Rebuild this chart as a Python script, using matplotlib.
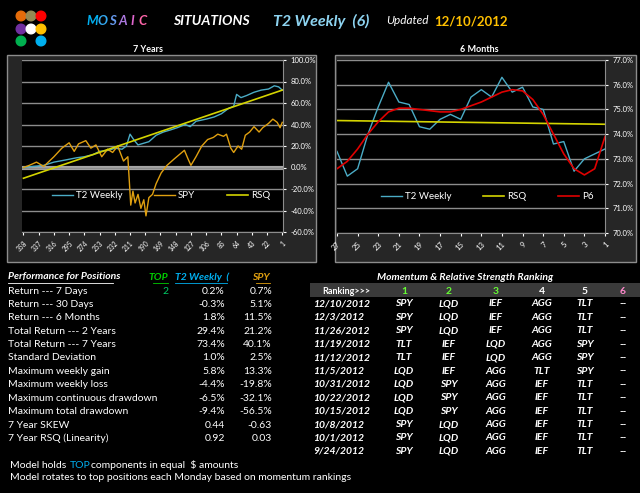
import matplotlib.pyplot as plt
from matplotlib.patches import Rectangle, Circle

W, H = 640, 493
FONT = ['Lato', 'DejaVu Sans']
plt.rcParams['font.family'] = FONT

# ---- 7 year chart data (week index counting down to 1) ----
long_ticks = [358, 337, 316, 295, 274, 253, 232, 211, 190, 169, 148, 127, 106, 85, 64, 43, 22, 1]
t2_wk = [358, 345, 330, 316, 300, 285, 274, 262, 253, 240, 232, 222, 216, 211, 206, 200, 195, 185,
         175, 165, 155, 146, 135, 128, 120, 106, 95, 85, 75, 68, 64, 58, 50, 40, 30, 20, 12, 6, 1]
t2_val = [0, 1, 2, 5, 7, 9, 10, 12, 15, 16, 18, 17, 20, 31, 26, 21, 22, 24,
          30, 33, 35, 37, 40, 38, 43, 45, 47, 50, 55, 57, 68, 65, 67, 70, 72, 73, 76, 75, 72]
spy_wk = [358, 350, 340, 330, 316, 305, 295, 288, 282, 272, 265, 258, 250, 242, 235, 228, 220, 214,
          210, 207, 204, 200, 196, 192, 189, 185, 180, 175, 168, 160, 150, 143, 136, 131, 127, 120,
          112, 104, 96, 90, 82, 78, 72, 68, 62, 57, 52, 46, 40, 33, 28, 20, 14, 8, 4, 1]
spy_val = [0, 2, 5, 1, 10, 18, 23, 15, 22, 25, 18, 21, 10, 17, 14, 20, 6, 10,
           -35, -22, -33, -25, -38, -30, -45, -28, -25, -15, -5, 2, 8, 12, 16, 8, 2, 10,
           20, 26, 28, 31, 29, 31, 18, 14, 20, 17, 30, 33, 38, 33, 37, 41, 45, 42, 37, 42]
rsq_wk = [358, 1]
rsq_val = [-10, 72]

# ---- 6 month chart data ----
short_wk = list(range(27, 0, -1))
short_ticks = list(range(27, 0, -2))
t2_short = [73.3, 72.3, 72.6, 74.0, 75.1, 76.1, 75.3, 75.2, 74.3, 74.2, 74.6, 74.8, 74.6, 75.5,
            75.8, 75.5, 76.3, 75.7, 75.9, 75.1, 75.0, 73.6, 73.7, 72.5, 73.0, 73.2, 73.4]
p6_short = [72.6, 72.9, 73.4, 74.0, 74.5, 74.9, 75.05, 75.05, 75.0, 74.95, 74.9, 74.9, 75.0, 75.15,
            75.3, 75.5, 75.7, 75.8, 75.75, 75.4, 74.8, 74.0, 73.2, 72.6, 72.35, 72.6, 73.9]
rsq_short = [74.55, 74.4]

# ---- performance table ----
perf_labels = ['Return --- 7 Days', 'Return --- 30 Days', 'Return --- 6 Months',
               'Total Return --- 2 Years', 'Total Return --- 7 Years', 'Standard Deviation',
               'Maximum weekly gain', 'Maximum weekly loss', 'Maximum continuous drawdown',
               'Maximum total drawdown', '7 Year SKEW', '7 Year RSQ (Linearity)']
perf_t2 = ['0.2%', '-0.3%', '1.8%', '29.4%', '73.4%', '1.0%', '5.8%', '-4.4%', '-6.5%', '-9.4%', '0.44', '0.92']
perf_spy = ['0.7%', '5.1%', '11.5%', '21.2%', '40.1%', '2.5%', '13.3%', '-19.8%', '-32.1%', '-56.5%', '-0.63', '0.03']

# ---- ranking table ----
rank_dates = ['12/10/2012', '12/3/2012', '11/26/2012', '11/19/2012', '11/12/2012', '11/5/2012',
              '10/31/2012', '10/22/2012', '10/15/2012', '10/8/2012', '10/1/2012', '9/24/2012']
rank_rows = [['SPY', 'LQD', 'IEF', 'AGG', 'TLT'], ['SPY', 'LQD', 'IEF', 'AGG', 'TLT'],
             ['SPY', 'LQD', 'IEF', 'AGG', 'TLT'], ['TLT', 'IEF', 'LQD', 'AGG', 'SPY'],
             ['TLT', 'IEF', 'LQD', 'AGG', 'SPY'], ['LQD', 'IEF', 'AGG', 'TLT', 'SPY'],
             ['LQD', 'SPY', 'AGG', 'IEF', 'TLT'], ['LQD', 'SPY', 'AGG', 'IEF', 'TLT'],
             ['LQD', 'SPY', 'AGG', 'IEF', 'TLT'], ['SPY', 'LQD', 'AGG', 'IEF', 'TLT'],
             ['SPY', 'LQD', 'AGG', 'IEF', 'TLT'], ['SPY', 'LQD', 'AGG', 'IEF', 'TLT']]

fig = plt.figure(figsize=(6.4, 4.93), dpi=100, facecolor='black')
bg = fig.add_axes([0, 0, 1, 1])
bg.set_xlim(0, W)
bg.set_ylim(H, 0)
bg.axis('off')


def txt(x, y, s, **kw):
    kw.setdefault('color', 'white')
    kw.setdefault('fontsize', 7.5)
    kw.setdefault('va', 'center')
    bg.text(x, y, s, **kw)


def px_axes(x0, y0, x1, y1):
    return fig.add_axes([x0 / W, 1 - y1 / H, (x1 - x0) / W, (y1 - y0) / H])


# header
dots = [(21, 16, '#e46c0a'), (31, 16, '#948a54'), (41, 16, '#ff0000'),
        (21, 29, '#7030a0'), (31, 29, 'white'), (41, 29, '#ffc000'),
        (21, 41, '#00b050'), (41, 41, '#00b0f0')]
for x, y, c in dots:
    bg.add_patch(Circle((x, y), 4.8, color=c))
mosaic_cols = ['#00b0f0', '#33a8f0', '#6699ee', '#aa77dd', '#dd66cc', '#ff66aa']
for i, ch in enumerate('MOSAIC'):
    txt(92 + i * 10.2, 21, ch, color=mosaic_cols[i], fontsize=9.5, fontweight='bold', style='italic', ha='center')
txt(173, 21, 'SITUATIONS', fontsize=10, fontweight='bold', style='italic')
txt(273, 21, 'T2 Weekly  (6)', color='#8dd3f0', fontsize=11.5, fontweight='bold', style='italic')
txt(386, 21, 'Updated', fontsize=8.5, style='italic')
txt(434, 21, '12/10/2012', color='#ffc000', fontsize=9.5, fontweight='bold')
txt(148, 50, '7 Years', fontsize=6.5, fontweight='bold', ha='center')
txt(479, 50, '6 Months', fontsize=6.5, fontweight='bold', ha='center')

# chart panels
for x0, x1 in [(7, 316), (335, 636)]:
    bg.add_patch(Rectangle((x0, 55), x1 - x0, 207, facecolor='#262626', edgecolor='#8c8c8c', lw=1))


def style_axes(ax, ticks, ylim, yticks, lsize):
    ax.set_facecolor('black')
    ax.set_ylim(*ylim)
    ax.set_yticks(yticks)
    ax.yaxis.tick_right()
    ax.grid(axis='y', color='#8c8c8c', lw=1)
    ax.set_xticks(ticks)
    ax.set_xticklabels([str(t) for t in ticks], rotation=45, ha='right', rotation_mode='anchor')
    ax.tick_params(colors='white', labelsize=5.5, length=2)
    ax.tick_params(axis='x', labelsize=lsize)
    for s in ax.spines.values():
        s.set_visible(False)
    ax.spines['bottom'].set_visible(True)
    ax.spines['bottom'].set_color('#8c8c8c')
    ax.spines['right'].set_visible(True)
    ax.spines['right'].set_color('#8c8c8c')


ax1 = px_axes(22, 60, 283, 232)
ax1.plot(t2_wk, t2_val, color='#4bacc6', lw=1, label='T2 Weekly')
ax1.plot(spy_wk, spy_val, color='#e0a010', lw=1, label='SPY')
ax1.plot(rsq_wk, rsq_val, color='#d4d400', lw=1.2, label='RSQ')
ax1.axhline(0, color='#a6a6a6', lw=3, zorder=0)
ax1.set_xlim(360, 0)
style_axes(ax1, long_ticks, (-60, 100), range(-60, 101, 20), 4.8)
ax1.set_yticklabels([f'{v:.1f}%' for v in range(-60, 101, 20)])
ax1.legend(loc='upper left', bbox_to_anchor=(0.1, 0.26), ncol=3, frameon=False, fontsize=7,
           labelcolor='white', handlelength=2.2, handletextpad=0.3, columnspacing=3.2, borderaxespad=0)

ax2 = px_axes(337, 60, 605, 233)
ax2.plot(short_wk, t2_short, color='#4bacc6', lw=1, label='T2 Weekly')
ax2.plot([27, 1], rsq_short, color='#d4d400', lw=1.2, label='RSQ')
ax2.plot(short_wk, p6_short, color='#e00000', lw=1.2, label='P6')
ax2.set_xlim(27, 1)
style_axes(ax2, short_ticks, (70, 77), range(70, 78), 5.5)
ax2.set_yticklabels([f'{v:.1f}%' for v in range(70, 78)])
ax2.legend(loc='upper left', bbox_to_anchor=(0.15, 0.26), ncol=3, frameon=False, fontsize=7,
           labelcolor='white', handlelength=2.2, handletextpad=0.3, columnspacing=3.2, borderaxespad=0)

# performance table
txt(8, 277, 'Performance for Positions', style='italic', fontweight='bold')
bg.plot([8, 113], [282.5, 282.5], color='white', lw=0.6)
txt(168, 277, 'TOP', color='#00cc00', style='italic', fontweight='bold', ha='right')
bg.plot([153, 168], [282.5, 282.5], color='#00cc00', lw=0.6)
txt(175, 277, 'T2 Weekly  (', color='#00b0f0', style='italic', fontweight='bold')
bg.plot([175, 227], [282.5, 282.5], color='#00b0f0', lw=0.6)
txt(270, 277, 'SPY', color='#e0a010', style='italic', fontweight='bold', ha='right')
bg.plot([256, 270], [282.5, 282.5], color='#e0a010', lw=0.6)
txt(168, 291, '2', color='#00cc66', ha='right')
for i, lab in enumerate(perf_labels):
    y = 291 + i * 13.4
    txt(8, y, lab)
    txt(225, y, perf_t2[i], ha='right')
    txt(272, y, perf_spy[i], ha='right')
txt(10, 465, 'Model holds')
txt(70, 465, 'TOP', color='#00b0f0')
txt(91, 465, 'components in equal  $ amounts')
txt(10, 478, 'Model rotates to top positions each Monday based on momentum rankings')

# ranking table
txt(465, 277, 'Momentum & Relative Strength Ranking', style='italic', fontweight='bold', ha='center')
bg.add_patch(Rectangle((310, 283), 330, 14, facecolor='#3a3a3a', edgecolor='none'))
txt(346, 291, 'Ranking>>>', fontsize=6.5, fontweight='bold', ha='center')
col_x = [404, 449, 496, 542, 585, 623]
col_c = ['#66ff33', '#66ff33', '#66ff33', 'white', 'white', '#ff88cc']
for j in range(6):
    txt(col_x[j], 291, str(j + 1), color=col_c[j], fontweight='bold', ha='center')
for i, d in enumerate(rank_dates):
    y = 304 + i * 13.4
    txt(313, y, d, style='italic', fontweight='bold')
    for j, s in enumerate(rank_rows[i] + ['--']):
        txt(col_x[j], y, s, style='italic', fontweight='bold', ha='center')

fig.savefig('out.png', dpi=100, facecolor='black')
